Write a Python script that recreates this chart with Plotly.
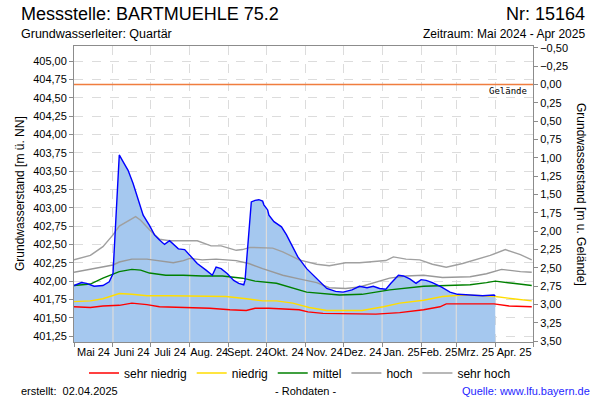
import numpy as np
import pandas as pd
import plotly.graph_objects as go

# ---------------- data ----------------
ground_level = 404.68

obs_dates = ["2024-05-01", "2024-05-07", "2024-05-11", "2024-05-17", "2024-05-24", "2024-05-29",
             "2024-06-01", "2024-06-06", "2024-06-09", "2024-06-13", "2024-06-17", "2024-06-21",
             "2024-06-25", "2024-06-30", "2024-07-04", "2024-07-08", "2024-07-12", "2024-07-16",
             "2024-07-20", "2024-07-23", "2024-07-28", "2024-08-02", "2024-08-07", "2024-08-14",
             "2024-08-19", "2024-08-22", "2024-08-26", "2024-08-31", "2024-09-05", "2024-09-09",
             "2024-09-13", "2024-09-14", "2024-09-17", "2024-09-19", "2024-09-22", "2024-09-25",
             "2024-09-28", "2024-09-29", "2024-10-02", "2024-10-03", "2024-10-07", "2024-10-13",
             "2024-10-17", "2024-10-21", "2024-10-26", "2024-11-02", "2024-11-10", "2024-11-18",
             "2024-11-25", "2024-12-01", "2024-12-08", "2024-12-14", "2024-12-20", "2024-12-25",
             "2024-12-30", "2025-01-04", "2025-01-08", "2025-01-14", "2025-01-18", "2025-01-23",
             "2025-01-28", "2025-02-01", "2025-02-05", "2025-02-10", "2025-02-17", "2025-02-24",
             "2025-03-02", "2025-03-09", "2025-03-22", "2025-03-31", "2025-04-01"]
obs_level = [401.94, 401.98, 401.97, 401.93, 401.94, 401.99,
             402.10, 403.72, 403.63, 403.51, 403.33, 403.13,
             402.90, 402.76, 402.63, 402.56, 402.50, 402.55,
             402.49, 402.44, 402.43, 402.33, 402.24, 402.15,
             402.08, 402.19, 402.17, 402.10, 402.01, 401.97,
             401.95, 402.01, 402.74, 403.08, 403.10, 403.11,
             403.09, 403.04, 402.97, 402.90, 402.81, 402.74,
             402.63, 402.49, 402.33, 402.17, 402.04, 401.90,
             401.86, 401.85, 401.88, 401.93, 401.91, 401.93,
             401.90, 401.89, 401.97, 402.08, 402.07, 402.03,
             401.97, 402.02, 402.01, 401.98, 401.92, 401.85,
             401.82, 401.81, 401.80, 401.81, 401.80]

sehr_hoch_dates = ["2024-05-01", "2024-05-14", "2024-05-24", "2024-06-01", "2024-06-06", "2024-06-13",
                   "2024-06-19", "2024-06-23", "2024-06-30", "2024-07-08", "2024-07-16", "2024-07-24",
                   "2024-08-07", "2024-08-18", "2024-08-26", "2024-09-07", "2024-09-12", "2024-09-18",
                   "2024-09-28", "2024-10-06", "2024-10-14", "2024-10-27", "2024-11-10", "2024-11-20",
                   "2024-12-03", "2024-12-14", "2025-01-04", "2025-01-10", "2025-01-20", "2025-01-31",
                   "2025-02-10", "2025-02-21", "2025-03-06", "2025-03-12", "2025-03-28", "2025-04-09",
                   "2025-04-21", "2025-04-30"]
sehr_hoch = [402.29, 402.35, 402.47, 402.63, 402.75, 402.82,
             402.88, 402.83, 402.70, 402.57, 402.55, 402.55,
             402.55, 402.48, 402.48, 402.42, 402.43, 402.46,
             402.45, 402.45, 402.40, 402.29, 402.23, 402.21,
             402.25, 402.25, 402.28, 402.33, 402.30, 402.29,
             402.23, 402.19, 402.24, 402.27, 402.35, 402.43,
             402.36, 402.29]

hoch_dates = ["2024-05-01", "2024-05-14", "2024-05-24", "2024-06-01", "2024-06-06", "2024-06-16",
              "2024-06-28", "2024-07-08", "2024-07-19", "2024-07-27", "2024-08-01", "2024-08-11",
              "2024-08-22", "2024-09-07", "2024-09-17", "2024-09-28", "2024-10-03", "2024-10-14",
              "2024-10-27", "2024-11-10", "2024-11-20", "2024-12-03", "2024-12-14", "2024-12-27",
              "2025-01-07", "2025-01-20", "2025-02-03", "2025-02-18", "2025-03-12", "2025-03-25",
              "2025-04-06", "2025-04-21", "2025-04-30"]
hoch = [402.12, 402.16, 402.19, 402.22, 402.26, 402.30,
        402.30, 402.28, 402.25, 402.28, 402.31, 402.29,
        402.30, 402.28, 402.24, 402.17, 402.14, 402.08,
        402.03, 401.98, 401.91, 401.90, 401.92, 401.99,
        402.04, 402.07, 402.08, 402.05, 402.06, 402.10,
        402.16, 402.13, 402.12]

mittel_dates = ["2024-05-01", "2024-05-14", "2024-05-24", "2024-06-01", "2024-06-06", "2024-06-16",
                "2024-06-23", "2024-06-30", "2024-07-13", "2024-07-27", "2024-08-11", "2024-08-27",
                "2024-09-12", "2024-09-22", "2024-10-03", "2024-10-09", "2024-11-02", "2024-11-28",
                "2024-12-16", "2025-01-07", "2025-02-03", "2025-03-12", "2025-03-25", "2025-04-01",
                "2025-04-15", "2025-04-30"]
mittel = [401.94, 401.96, 402.04, 402.10, 402.13, 402.16,
          402.15, 402.11, 402.08, 402.08, 402.07, 402.07,
          402.04, 402.00, 401.98, 401.97, 401.85, 401.81,
          401.82, 401.88, 401.93, 401.95, 401.98, 402.00,
          401.97, 401.94]

niedrig_dates = ["2024-05-01", "2024-05-14", "2024-05-24", "2024-06-01", "2024-06-06", "2024-06-16",
                 "2024-06-28", "2024-07-16", "2024-08-11", "2024-08-30", "2024-09-15", "2024-09-28",
                 "2024-10-09", "2024-10-22", "2024-11-04", "2024-11-18", "2024-12-16", "2025-01-02",
                 "2025-01-15", "2025-02-03", "2025-02-18", "2025-03-06", "2025-03-22", "2025-04-01",
                 "2025-04-15", "2025-04-30"]
niedrig = [401.72, 401.73, 401.76, 401.80, 401.83, 401.82,
           401.80, 401.80, 401.80, 401.79, 401.76, 401.73,
           401.73, 401.70, 401.64, 401.60, 401.60, 401.65,
           401.70, 401.74, 401.79, 401.81, 401.80, 401.79,
           401.76, 401.73]

sehr_niedrig_dates = ["2024-05-01", "2024-05-14", "2024-05-24", "2024-06-06", "2024-06-16", "2024-06-28",
                      "2024-07-08", "2024-07-29", "2024-08-17", "2024-09-02", "2024-09-15", "2024-09-22",
                      "2024-10-03", "2024-10-27", "2024-11-03", "2024-11-15", "2024-12-25", "2024-12-27",
                      "2025-01-15", "2025-02-03", "2025-02-16", "2025-02-21", "2025-03-31", "2025-04-12",
                      "2025-04-30"]
sehr_niedrig = [401.65, 401.64, 401.66, 401.67, 401.70, 401.68,
                401.65, 401.64, 401.63, 401.61, 401.60, 401.63,
                401.63, 401.61, 401.58, 401.56, 401.56, 401.55,
                401.57, 401.61, 401.65, 401.69, 401.69, 401.66,
                401.65]

month_starts = ["2024-05-01", "2024-06-01", "2024-07-01", "2024-08-01", "2024-09-01", "2024-10-01",
                "2024-11-01", "2024-12-01", "2025-01-01", "2025-02-01", "2025-03-01", "2025-04-01",
                "2025-05-01"]
month_labels = ["Mai 24", "Juni 24", "Juli 24", "Aug. 24", "Sept. 24", "Okt. 24", "Nov. 24",
                "Dez. 24", "Jan. 25", "Feb. 25", "Mrz. 25", "Apr. 25"]

left_ticks = [401.25 + 0.25 * i for i in range(16)]
right_ticks = [-0.5 + 0.25 * i for i in range(17)]

# ---------------- layout geometry ----------------
W, H = 600, 400
L, R, T, B = 74, 533, 46, 342
y_min, y_max = 401.17, 405.205

def px(x):
    return (x - L) / (R - L)

def py(y):
    return (B - y) / (B - T)

FONT = "Liberation Sans, Arial, sans-serif"

ms = pd.to_datetime(month_starts)
mid_month = [ms[i] + (ms[i + 1] - ms[i]) / 2 for i in range(len(ms) - 1)]

fig = go.Figure()

# baseline for the fill
od = pd.to_datetime(obs_dates)
fig.add_trace(go.Scatter(x=od, y=[y_min] * len(od), mode="lines", line=dict(width=0),
                         showlegend=False, hoverinfo="skip"))
fig.add_trace(go.Scatter(x=od, y=obs_level, mode="lines", fill="tonexty",
                         fillcolor="#a5c8ef", line=dict(width=0), showlegend=False,
                         hoverinfo="skip"))

# vertical month lines inside the fill (drawn up to the observed level)
od_num = od.astype("int64").to_numpy()
vx, vy = [], []
for d in ms[1:-2]:
    lvl = float(np.interp(d.value, od_num, obs_level))
    vx += [d, d, None]
    vy += [y_min, lvl, None]
fig.add_trace(go.Scatter(x=vx, y=vy, mode="lines", line=dict(color="#dcdcdc", width=1.2),
                         showlegend=False, hoverinfo="skip"))

# percentile lines
series = [
    ("sehr niedrig", sehr_niedrig_dates, sehr_niedrig, "#ff0000"),
    ("niedrig", niedrig_dates, niedrig, "#ffdd00"),
    ("mittel", mittel_dates, mittel, "#008000"),
    ("hoch", hoch_dates, hoch, "#999999"),
    ("sehr hoch", sehr_hoch_dates, sehr_hoch, "#a0a0a0"),
]
for name, d, v, c in series:
    fig.add_trace(go.Scatter(x=pd.to_datetime(d), y=v, mode="lines", name=name,
                             line=dict(color=c, width=1.4)))

# observed line
fig.add_trace(go.Scatter(x=od, y=obs_level, mode="lines", line=dict(color="#0000ff", width=1.4),
                         showlegend=False))

# ground level line
fig.add_trace(go.Scatter(x=[ms[0], ms[-1]], y=[ground_level, ground_level], mode="lines",
                         line=dict(color="#f07d3f", width=1.3), showlegend=False))

# dummy trace to activate right axis
fig.add_trace(go.Scatter(x=[ms[0]], y=[0], yaxis="y2", mode="markers",
                         marker=dict(opacity=0), showlegend=False, hoverinfo="skip"))

fig.update_layout(
    width=W, height=H,
    margin=dict(l=L, r=W - R, t=T, b=H - B, pad=0, autoexpand=False),
    paper_bgcolor="white", plot_bgcolor="white",
    separators=",.",
    font=dict(family=FONT, size=11, color="black"),
    xaxis=dict(
        type="date", range=[ms[0], ms[-1]],
        tickmode="array", tickvals=mid_month, ticktext=month_labels,
        ticks="", showgrid=False, tickfont=dict(size=11), tickangle=0,
        showline=True, linecolor="#8c8c8c", linewidth=1, mirror=True,
        zeroline=False, automargin=False,
        minor=dict(tickmode="array", tickvals=ms, ticks="outside", ticklen=4,
                   tickcolor="#8c8c8c", showgrid=True, gridcolor="#dcdcdc",
                   griddash="dash", gridwidth=1),
    ),
    yaxis=dict(
        range=[y_min, y_max], tickmode="array", tickvals=left_ticks,
        tickformat=".2f", ticks="outside", ticklen=4, tickcolor="#8c8c8c",
        showgrid=True, gridcolor="#dcdcdc", griddash="dash", gridwidth=1,
        showline=True, linecolor="#8c8c8c", linewidth=1, zeroline=False,
        tickfont=dict(size=11), automargin=False,
    ),
    yaxis2=dict(
        overlaying="y", side="right",
        range=[ground_level - y_min, ground_level - y_max],
        tickmode="array", tickvals=right_ticks, tickformat=".2f",
        ticks="outside", ticklen=4, tickcolor="#8c8c8c", showgrid=False,
        showline=True, linecolor="#8c8c8c", linewidth=1, zeroline=False,
        tickfont=dict(size=11), automargin=False,
    ),
    legend=dict(orientation="h", x=px(300), xref="paper", xanchor="center",
                y=py(373), yanchor="middle", font=dict(size=12), itemwidth=30,
                traceorder="normal", bgcolor="rgba(0,0,0,0)", tracegroupgap=0),
    showlegend=True,
)

ann = [
    dict(text="Messstelle: BARTMUEHLE 75.2", x=px(19), y=py(14), xanchor="left",
         yanchor="middle", font=dict(size=18)),
    dict(text="Nr: 15164", x=px(587), y=py(14), xanchor="right", yanchor="middle",
         font=dict(size=18)),
    dict(text="Grundwasserleiter: Quartär", x=px(19), y=py(34), xanchor="left",
         yanchor="middle", font=dict(size=12.5)),
    dict(text="Zeitraum: Mai 2024 - Apr 2025", x=px(587), y=py(34), xanchor="right",
         yanchor="middle", font=dict(size=12)),
    dict(text="Grundwasserstand [m ü. NN]", x=px(20), y=py(194), textangle=-90,
         xanchor="center", yanchor="middle", font=dict(size=12)),
    dict(text="Grundwasserstand [m u. Gelände]", x=px(581), y=py(194), textangle=90,
         xanchor="center", yanchor="middle", font=dict(size=12)),
    dict(text="Gelände", x=px(529), y=py(91), xanchor="right", yanchor="middle",
         font=dict(size=9, family="DejaVu Sans Mono")),
    dict(text="erstellt:  02.04.2025", x=px(19), y=py(391), xanchor="left",
         yanchor="middle", font=dict(size=11)),
    dict(text="- Rohdaten -", x=px(305), y=py(391), xanchor="center",
         yanchor="middle", font=dict(size=11)),
    dict(text="Quelle: www.lfu.bayern.de", x=px(592), y=py(391), xanchor="right",
         yanchor="middle", font=dict(size=11, color="#1f1fff")),
]
for a in ann:
    a.update(xref="paper", yref="paper", showarrow=False)
fig.update_layout(annotations=ann)

fig.write_html("out.html", config={"displayModeBar": False},
               post_script="document.body.style.margin='0';")
